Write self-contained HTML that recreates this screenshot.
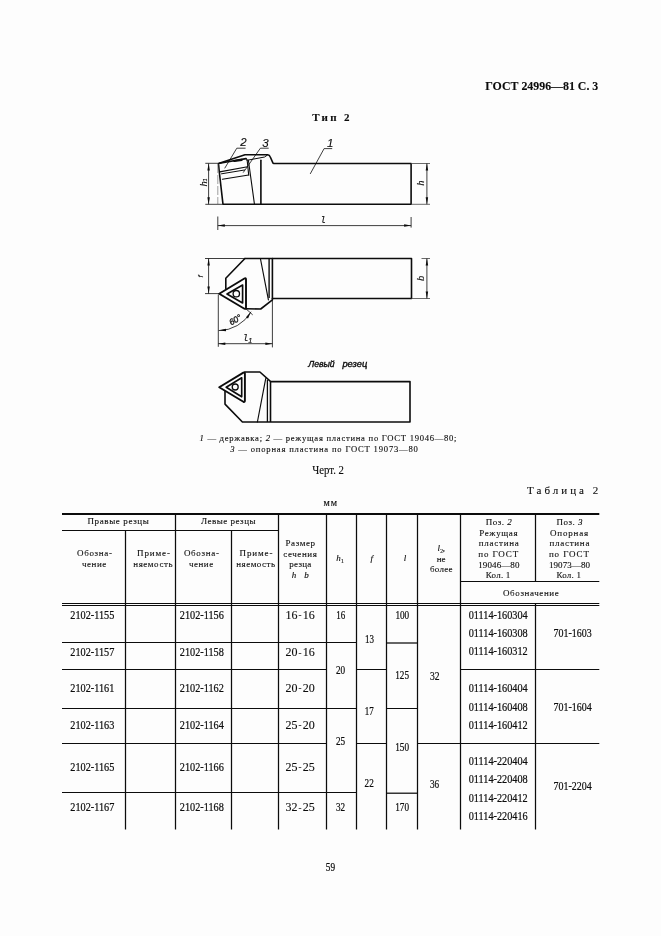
<!DOCTYPE html>
<html lang="ru"><head><meta charset="utf-8"><title>ГОСТ 24996—81 С. 3</title>
<style>
html,body{margin:0;padding:0;background:#fdfdfd;}
body{width:661px;height:936px;overflow:hidden;position:relative;}
svg{position:absolute;left:0;top:0;display:block;filter:blur(0.35px);}
text{white-space:pre;stroke:#0c0c0c;stroke-width:0.12px;paint-order:stroke fill;}
</style></head><body>
<svg width="661" height="936" viewBox="0 0 661 936">
<text x="485.3" y="89.8" font-family="'Liberation Serif','Noto Serif CJK SC',serif" font-size="12" fill="#0c0c0c" font-weight="bold" textLength="113" lengthAdjust="spacingAndGlyphs" >ГОСТ 24996—81 С. 3</text>
<text x="312.2" y="120.6" font-family="'Liberation Serif','Noto Serif CJK SC',serif" font-size="11" fill="#0c0c0c" font-weight="bold" textLength="37.4" lengthAdjust="spacing" >Тип 2</text>
<path d="M218.5 163.5 L245 154.8 L267.7 154.8 Q269.5 155 270.3 157 L273 163.1 L273.8 163.5 L411.1 163.5 L411.1 204.3 L223 204.3 L219.3 172 Z" stroke="#0c0c0c" stroke-width="1.6" fill="none" stroke-linejoin="round" stroke-linecap="round" />
<path d="M219.5 163.3 L246 158.6" stroke="#0c0c0c" stroke-width="1.6" fill="none" stroke-linejoin="round" stroke-linecap="round" />
<path d="M234.4 161.0 L241.8 159.8" stroke="#0c0c0c" stroke-width="2.2" fill="none" stroke-linejoin="round" stroke-linecap="round" />
<path d="M247 160.3 L264.6 157.0 L267.5 155" stroke="#0c0c0c" stroke-width="1.0" fill="none" stroke-linejoin="round" stroke-linecap="round" />
<path d="M219.7 171.9 L247.6 166.8" stroke="#0c0c0c" stroke-width="1.1" fill="none" stroke-linejoin="round" stroke-linecap="round" />
<path d="M221.5 173.8 L244.5 170.0" stroke="#0c0c0c" stroke-width="1.0" fill="none" stroke-linejoin="round" stroke-linecap="round" />
<path d="M222.4 179.3 L248.7 175.0" stroke="#0c0c0c" stroke-width="1.1" fill="none" stroke-linejoin="round" stroke-linecap="round" />
<path d="M246.3 158.8 Q247.2 159.2 247.3 161.5 L248.7 175.0" stroke="#0c0c0c" stroke-width="1.1" fill="none" stroke-linejoin="round" stroke-linecap="round" />
<path d="M248.4 160.2 L254.4 203.9" stroke="#0c0c0c" stroke-width="1.1" fill="none" stroke-linejoin="round" stroke-linecap="round" />
<path d="M260.9 160.2 L260.9 203.9" stroke="#0c0c0c" stroke-width="1.6" fill="none" stroke-linejoin="round" stroke-linecap="round" />
<line x1="217.8" y1="164" x2="217.8" y2="204" stroke="#777" stroke-width="0.7" stroke-dasharray="9 2"/>
<line x1="205.3" y1="163.3" x2="218.3" y2="163.3" stroke="#0c0c0c" stroke-width="0.8" />
<line x1="205.3" y1="204.3" x2="222.5" y2="204.3" stroke="#0c0c0c" stroke-width="0.8" />
<line x1="208.6" y1="163.5" x2="208.6" y2="204.3" stroke="#0c0c0c" stroke-width="0.8" />
<polygon points="208.60,163.50 209.85,170.50 207.35,170.50" fill="#0c0c0c"/>
<polygon points="208.60,204.30 207.35,197.30 209.85,197.30" fill="#0c0c0c"/>
<text x="206.6" y="186.2" font-family="'Liberation Sans','Noto Sans CJK SC',sans-serif" font-size="8.8" fill="#0c0c0c" font-style="italic" transform="rotate(-90 206.6 186.2)" >h</text>
<text x="207.4" y="181.4" font-family="'Liberation Sans','Noto Sans CJK SC',sans-serif" font-size="5.5" fill="#0c0c0c" font-style="italic" transform="rotate(-90 207.4 181.4)" >1</text>
<line x1="411.1" y1="163.5" x2="430" y2="163.5" stroke="#444" stroke-width="0.8" />
<line x1="411.1" y1="204.3" x2="430" y2="204.3" stroke="#444" stroke-width="0.8" />
<line x1="426.9" y1="163.5" x2="426.9" y2="204.3" stroke="#0c0c0c" stroke-width="0.8" />
<polygon points="426.90,163.50 428.15,170.50 425.65,170.50" fill="#0c0c0c"/>
<polygon points="426.90,204.30 425.65,197.30 428.15,197.30" fill="#0c0c0c"/>
<text x="424.4" y="185.4" font-family="'Liberation Sans','Noto Sans CJK SC',sans-serif" font-size="8.8" fill="#0c0c0c" font-style="italic" transform="rotate(-90 424.4 185.4)" >h</text>
<line x1="217.8" y1="216.5" x2="217.8" y2="230" stroke="#0c0c0c" stroke-width="0.8" />
<line x1="411.1" y1="217" x2="411.1" y2="227.6" stroke="#0c0c0c" stroke-width="0.8" />
<line x1="217.8" y1="225.6" x2="411.1" y2="225.6" stroke="#0c0c0c" stroke-width="0.8" />
<polygon points="217.80,225.60 224.80,224.35 224.80,226.85" fill="#0c0c0c"/>
<polygon points="411.10,225.60 404.10,226.85 404.10,224.35" fill="#0c0c0c"/>
<text x="320.6" y="223.2" font-family="'DejaVu Sans Mono','Liberation Mono',monospace" font-size="9.5" fill="#0c0c0c" font-style="italic" >l</text>
<path d="M310.4 173.6 L324.1 148.6 L331.8 148.6" stroke="#0c0c0c" stroke-width="0.8" fill="none" stroke-linejoin="round" stroke-linecap="round" />
<text x="327.0" y="146.7" font-family="'Liberation Sans','Noto Sans CJK SC',sans-serif" font-size="11.5" fill="#0c0c0c" font-style="italic" >1</text>
<path d="M224.9 168 L236.8 148.2 L245.2 148.2" stroke="#0c0c0c" stroke-width="0.8" fill="none" stroke-linejoin="round" stroke-linecap="round" />
<text x="240.3" y="146.0" font-family="'Liberation Sans','Noto Sans CJK SC',sans-serif" font-size="11.5" fill="#0c0c0c" font-style="italic" >2</text>
<path d="M243.4 172.3 L260.4 148.2 L268.3 148.2" stroke="#0c0c0c" stroke-width="0.8" fill="none" stroke-linejoin="round" stroke-linecap="round" />
<text x="262.2" y="146.5" font-family="'Liberation Sans','Noto Sans CJK SC',sans-serif" font-size="11.5" fill="#0c0c0c" font-style="italic" >3</text>
<path d="M244.9 258.5 L411.5 258.5 L411.5 298.5 L272.4 298.5" stroke="#0c0c0c" stroke-width="1.6" fill="none" stroke-linejoin="round" stroke-linecap="round" />
<path d="M244.9 258.5 L225.8 278.3 L225.8 288.6" stroke="#0c0c0c" stroke-width="1.6" fill="none" stroke-linejoin="round" stroke-linecap="round" />
<path d="M246 308.8 L260.7 309.0 L272.4 299.9 L272.4 258.5" stroke="#0c0c0c" stroke-width="1.6" fill="none" stroke-linejoin="round" stroke-linecap="round" />
<line x1="269.1" y1="258.5" x2="269.1" y2="298" stroke="#0c0c0c" stroke-width="1.4" />
<path d="M260.4 258.5 L268.4 299.9" stroke="#0c0c0c" stroke-width="1.15" fill="none" stroke-linejoin="round" stroke-linecap="round" />
<path d="M219.2 293.7 L244.4 278.5 Q246 277.7 246 279.6 L246 307.4 Q246 309.3 244.4 308.7 Z" stroke="#0c0c0c" stroke-width="1.9" fill="none" stroke-linejoin="round" stroke-linecap="round" />
<path d="M227.0 294.0 L242.6 285.0 L242.6 303.0 Z" stroke="#0c0c0c" stroke-width="1.65" fill="none" stroke-linejoin="round" stroke-linecap="round" />
<circle cx="236.3" cy="293.7" r="3.2" fill="none" stroke="#0c0c0c" stroke-width="1.3"/>
<line x1="205" y1="258.5" x2="245" y2="258.5" stroke="#0c0c0c" stroke-width="0.8" />
<line x1="205" y1="293.6" x2="219" y2="293.6" stroke="#0c0c0c" stroke-width="0.8" />
<line x1="208.6" y1="258.5" x2="208.6" y2="293.6" stroke="#0c0c0c" stroke-width="0.8" />
<polygon points="208.60,258.50 209.85,265.50 207.35,265.50" fill="#0c0c0c"/>
<polygon points="208.60,293.60 207.35,286.60 209.85,286.60" fill="#0c0c0c"/>
<text x="203.4" y="277.6" font-family="'Liberation Sans','Noto Sans CJK SC',sans-serif" font-size="8" fill="#0c0c0c" font-style="italic" transform="rotate(-90 203.4 277.6)" >f</text>
<line x1="421.5" y1="258.5" x2="430" y2="258.5" stroke="#444" stroke-width="0.8" />
<line x1="411.5" y1="298.5" x2="430" y2="298.5" stroke="#444" stroke-width="0.8" />
<line x1="426.9" y1="258.5" x2="426.9" y2="298.5" stroke="#0c0c0c" stroke-width="0.8" />
<polygon points="426.90,258.50 428.15,265.50 425.65,265.50" fill="#0c0c0c"/>
<polygon points="426.90,298.50 425.65,291.50 428.15,291.50" fill="#0c0c0c"/>
<text x="423.6" y="280.8" font-family="'Liberation Sans','Noto Sans CJK SC',sans-serif" font-size="8.8" fill="#0c0c0c" font-style="italic" transform="rotate(-90 423.6 280.8)" >b</text>
<line x1="218.3" y1="294.5" x2="218.3" y2="346.8" stroke="#0c0c0c" stroke-width="0.8" />
<line x1="272.4" y1="300" x2="272.4" y2="347.4" stroke="#0c0c0c" stroke-width="0.8" />
<line x1="218.3" y1="343.7" x2="272.4" y2="343.7" stroke="#0c0c0c" stroke-width="0.8" />
<polygon points="218.30,343.70 225.30,342.45 225.30,344.95" fill="#0c0c0c"/>
<polygon points="272.40,343.70 265.40,344.95 265.40,342.45" fill="#0c0c0c"/>
<text x="243.0" y="341.2" font-family="'DejaVu Sans Mono','Liberation Mono',monospace" font-size="9.5" fill="#0c0c0c" font-style="italic" >l</text>
<text x="248.0" y="342.9" font-family="'Liberation Sans','Noto Sans CJK SC',sans-serif" font-size="8" fill="#0c0c0c" font-style="italic" >1</text>
<path d="M246 308.8 L252.4 314.6" stroke="#0c0c0c" stroke-width="0.8" fill="none" stroke-linejoin="round" stroke-linecap="round" />
<path d="M219.0 330.6 A37 37 0 0 0 250.9 312.1" stroke="#0c0c0c" stroke-width="0.8" fill="none" stroke-linejoin="round" stroke-linecap="round" />
<polygon points="219.00,330.60 225.90,328.86 226.07,331.36" fill="#0c0c0c"/>
<polygon points="250.90,312.10 248.02,318.60 245.95,317.20" fill="#0c0c0c"/>
<text x="231.2" y="325.6" font-family="'Liberation Sans','Noto Sans CJK SC',sans-serif" font-size="8.5" fill="#0c0c0c" font-style="italic" transform="rotate(-31 231.2 325.6)" style="stroke-width:0.3px">60°</text>
<text x="308.2" y="367.0" font-family="'Liberation Sans','Noto Sans CJK SC',sans-serif" font-size="8.5" fill="#0c0c0c" font-style="italic" textLength="26.5" lengthAdjust="spacingAndGlyphs" style="stroke-width:0.35px">Левый</text>
<text x="342.4" y="367.0" font-family="'Liberation Sans','Noto Sans CJK SC',sans-serif" font-size="8.5" fill="#0c0c0c" font-style="italic" textLength="24.8" lengthAdjust="spacingAndGlyphs" style="stroke-width:0.35px">резец</text>
<path d="M244.9 372.0 L259.9 372.0 L270.7 381.6 L410 381.6 L410 422.0 L242.4 422.0 L225 404.1 L225 391.5" stroke="#0c0c0c" stroke-width="1.6" fill="none" stroke-linejoin="round" stroke-linecap="round" />
<path d="M219.2 387.2 L243.4 372.6 Q244.9 371.8 244.9 373.6 L244.9 400.6 Q244.9 402.4 243.4 401.8 Z" stroke="#0c0c0c" stroke-width="1.9" fill="none" stroke-linejoin="round" stroke-linecap="round" />
<path d="M226.2 387.2 L241.7 377.8 L241.7 396.8 Z" stroke="#0c0c0c" stroke-width="1.65" fill="none" stroke-linejoin="round" stroke-linecap="round" />
<circle cx="235.2" cy="387.0" r="3.0" fill="none" stroke="#0c0c0c" stroke-width="1.3"/>
<path d="M265.7 378.6 L257.4 422.0" stroke="#0c0c0c" stroke-width="1.15" fill="none" stroke-linejoin="round" stroke-linecap="round" />
<line x1="267.4" y1="380" x2="267.4" y2="422.0" stroke="#0c0c0c" stroke-width="1.3" />
<line x1="270.5" y1="381.6" x2="270.5" y2="422.0" stroke="#0c0c0c" stroke-width="1.6" />
<text x="199.5" y="441.4" font-family="'Liberation Serif',serif" font-size="8.6" fill="#0c0c0c" textLength="257" lengthAdjust="spacing"><tspan font-style="italic">1</tspan> — державка; <tspan font-style="italic">2</tspan> — режущая пластина по ГОСТ 19046—80;</text>
<text x="230.3" y="452.1" font-family="'Liberation Serif',serif" font-size="8.6" fill="#0c0c0c" textLength="187.6" lengthAdjust="spacing"><tspan font-style="italic">3</tspan> — опорная пластина по ГОСТ 19073—80</text>
<text x="312.2" y="474.0" font-family="'Liberation Serif','Noto Serif CJK SC',serif" font-size="11.5" fill="#0c0c0c" textLength="31.8" lengthAdjust="spacingAndGlyphs" >Черт. 2</text>
<text x="527.1" y="493.9" font-family="'Liberation Serif','Noto Serif CJK SC',serif" font-size="11" fill="#0c0c0c" textLength="71.1" lengthAdjust="spacing" >Таблица 2</text>
<text x="323.4" y="505.6" font-family="'Liberation Serif','Noto Serif CJK SC',serif" font-size="10" fill="#0c0c0c" textLength="13.8" lengthAdjust="spacing" >мм</text>
<line x1="62" y1="514.0" x2="599.3" y2="514.0" stroke="#0c0c0c" stroke-width="2.0" />
<line x1="62" y1="530.5" x2="278.5" y2="530.5" stroke="#0c0c0c" stroke-width="1.0" />
<line x1="460.5" y1="581.5" x2="599.3" y2="581.5" stroke="#0c0c0c" stroke-width="1.0" />
<line x1="62" y1="603.5" x2="599.3" y2="603.5" stroke="#0c0c0c" stroke-width="1.0" />
<line x1="62" y1="605.5" x2="599.3" y2="605.5" stroke="#0c0c0c" stroke-width="1.0" />
<line x1="125.5" y1="530.5" x2="125.5" y2="829.5" stroke="#0c0c0c" stroke-width="1.25" />
<line x1="231.5" y1="530.5" x2="231.5" y2="829.5" stroke="#0c0c0c" stroke-width="1.25" />
<line x1="175.5" y1="514.0" x2="175.5" y2="829.5" stroke="#0c0c0c" stroke-width="1.25" />
<line x1="278.5" y1="514.0" x2="278.5" y2="829.5" stroke="#0c0c0c" stroke-width="1.25" />
<line x1="326.5" y1="514.0" x2="326.5" y2="829.5" stroke="#0c0c0c" stroke-width="1.25" />
<line x1="356.5" y1="514.0" x2="356.5" y2="829.5" stroke="#0c0c0c" stroke-width="1.25" />
<line x1="386.5" y1="514.0" x2="386.5" y2="829.5" stroke="#0c0c0c" stroke-width="1.25" />
<line x1="417.5" y1="514.0" x2="417.5" y2="829.5" stroke="#0c0c0c" stroke-width="1.25" />
<line x1="460.5" y1="514.0" x2="460.5" y2="829.5" stroke="#0c0c0c" stroke-width="1.25" />
<line x1="535.5" y1="514.0" x2="535.5" y2="581.5" stroke="#0c0c0c" stroke-width="1.25" />
<line x1="535.5" y1="603.5" x2="535.5" y2="829.5" stroke="#0c0c0c" stroke-width="1.25" />
<line x1="62" y1="642.5" x2="326.5" y2="642.5" stroke="#0c0c0c" stroke-width="1.0" />
<line x1="62" y1="669.5" x2="326.5" y2="669.5" stroke="#0c0c0c" stroke-width="1.0" />
<line x1="62" y1="708.5" x2="326.5" y2="708.5" stroke="#0c0c0c" stroke-width="1.0" />
<line x1="62" y1="743.5" x2="326.5" y2="743.5" stroke="#0c0c0c" stroke-width="1.0" />
<line x1="62" y1="792.5" x2="326.5" y2="792.5" stroke="#0c0c0c" stroke-width="1.0" />
<line x1="326.5" y1="642.5" x2="356.5" y2="642.5" stroke="#0c0c0c" stroke-width="1.0" />
<line x1="326.5" y1="708.5" x2="356.5" y2="708.5" stroke="#0c0c0c" stroke-width="1.0" />
<line x1="326.5" y1="792.5" x2="356.5" y2="792.5" stroke="#0c0c0c" stroke-width="1.0" />
<line x1="356.5" y1="669.5" x2="386.5" y2="669.5" stroke="#0c0c0c" stroke-width="1.0" />
<line x1="356.5" y1="743.5" x2="386.5" y2="743.5" stroke="#0c0c0c" stroke-width="1.0" />
<line x1="386.5" y1="643.0" x2="417.5" y2="643.0" stroke="#0c0c0c" stroke-width="1.25" />
<line x1="386.5" y1="708.5" x2="417.5" y2="708.5" stroke="#0c0c0c" stroke-width="1.0" />
<line x1="386.5" y1="793.2" x2="417.5" y2="793.2" stroke="#0c0c0c" stroke-width="1.25" />
<line x1="417.5" y1="743.5" x2="460.5" y2="743.5" stroke="#0c0c0c" stroke-width="1.0" />
<line x1="460.5" y1="669.5" x2="599.3" y2="669.5" stroke="#0c0c0c" stroke-width="1.0" />
<line x1="460.5" y1="743.5" x2="599.3" y2="743.5" stroke="#0c0c0c" stroke-width="1.0" />
<text x="87.5" y="523.6" font-family="'Liberation Serif','Noto Serif CJK SC',serif" font-size="9" fill="#0c0c0c" textLength="61.3" lengthAdjust="spacing" >Правые резцы</text>
<text x="201.0" y="523.6" font-family="'Liberation Serif','Noto Serif CJK SC',serif" font-size="9" fill="#0c0c0c" textLength="54.5" lengthAdjust="spacing" >Левые резцы</text>
<text x="77" y="555.8" font-family="'Liberation Serif','Noto Serif CJK SC',serif" font-size="9" fill="#0c0c0c" textLength="35" lengthAdjust="spacing" >Обозна-</text>
<text x="82" y="566.8" font-family="'Liberation Serif','Noto Serif CJK SC',serif" font-size="9" fill="#0c0c0c" textLength="24.3" lengthAdjust="spacing" >чение</text>
<text x="183.9" y="555.8" font-family="'Liberation Serif','Noto Serif CJK SC',serif" font-size="9" fill="#0c0c0c" textLength="35" lengthAdjust="spacing" >Обозна-</text>
<text x="188.9" y="566.8" font-family="'Liberation Serif','Noto Serif CJK SC',serif" font-size="9" fill="#0c0c0c" textLength="24.3" lengthAdjust="spacing" >чение</text>
<text x="137" y="555.8" font-family="'Liberation Serif','Noto Serif CJK SC',serif" font-size="9" fill="#0c0c0c" textLength="33" lengthAdjust="spacing" >Приме-</text>
<text x="133.3" y="566.8" font-family="'Liberation Serif','Noto Serif CJK SC',serif" font-size="9" fill="#0c0c0c" textLength="39.2" lengthAdjust="spacing" >няемость</text>
<text x="239.5" y="555.8" font-family="'Liberation Serif','Noto Serif CJK SC',serif" font-size="9" fill="#0c0c0c" textLength="33" lengthAdjust="spacing" >Приме-</text>
<text x="236.3" y="566.8" font-family="'Liberation Serif','Noto Serif CJK SC',serif" font-size="9" fill="#0c0c0c" textLength="38.7" lengthAdjust="spacing" >няемость</text>
<text x="285.5" y="545.8" font-family="'Liberation Serif','Noto Serif CJK SC',serif" font-size="9" fill="#0c0c0c" textLength="29.5" lengthAdjust="spacing" >Размер</text>
<text x="283.3" y="557.0" font-family="'Liberation Serif','Noto Serif CJK SC',serif" font-size="9" fill="#0c0c0c" textLength="33.5" lengthAdjust="spacing" >сечения</text>
<text x="289.3" y="566.8" font-family="'Liberation Serif','Noto Serif CJK SC',serif" font-size="9" fill="#0c0c0c" textLength="22" lengthAdjust="spacing" >резца</text>
<text x="291.8" y="578.0" font-family="'Liberation Serif','Noto Serif CJK SC',serif" font-size="9" fill="#0c0c0c" font-style="italic" >h</text>
<text x="304.3" y="578.0" font-family="'Liberation Serif','Noto Serif CJK SC',serif" font-size="9" fill="#0c0c0c" font-style="italic" >b</text>
<text x="336.3" y="561.3" font-family="'Liberation Serif','Noto Serif CJK SC',serif" font-size="9" fill="#0c0c0c" font-style="italic" >h</text>
<text x="341.0" y="562.6" font-family="'Liberation Serif','Noto Serif CJK SC',serif" font-size="5.5" fill="#0c0c0c" >1</text>
<text x="370.6" y="561.3" font-family="'Liberation Serif','Noto Serif CJK SC',serif" font-size="9" fill="#0c0c0c" font-style="italic" >f</text>
<text x="403.8" y="561.3" font-family="'Liberation Serif','Noto Serif CJK SC',serif" font-size="9" fill="#0c0c0c" font-style="italic" >l</text>
<text x="437.5" y="551.3" font-family="'Liberation Serif','Noto Serif CJK SC',serif" font-size="9" fill="#0c0c0c" font-style="italic" >l</text>
<text x="440.2" y="552.8" font-family="'Liberation Serif','Noto Serif CJK SC',serif" font-size="5.5" fill="#0c0c0c" >2</text>
<text x="442.8" y="551.3" font-family="'Liberation Serif','Noto Serif CJK SC',serif" font-size="9" fill="#0c0c0c" >,</text>
<text x="436.8" y="561.8" font-family="'Liberation Serif','Noto Serif CJK SC',serif" font-size="9" fill="#0c0c0c" textLength="8.7" lengthAdjust="spacing" >не</text>
<text x="430" y="571.8" font-family="'Liberation Serif','Noto Serif CJK SC',serif" font-size="9" fill="#0c0c0c" textLength="22.5" lengthAdjust="spacing" >более</text>
<text x="485.75" y="524.5" font-family="'Liberation Serif',serif" font-size="9" fill="#0c0c0c" textLength="26" lengthAdjust="spacing">Поз. <tspan font-style="italic">2</tspan></text>
<text x="479.25" y="536.3" font-family="'Liberation Serif','Noto Serif CJK SC',serif" font-size="9" fill="#0c0c0c" textLength="38.3" lengthAdjust="spacing" >Режущая</text>
<text x="478.75" y="546.3" font-family="'Liberation Serif','Noto Serif CJK SC',serif" font-size="9" fill="#0c0c0c" textLength="40" lengthAdjust="spacing" >пластина</text>
<text x="478.25" y="557.0" font-family="'Liberation Serif','Noto Serif CJK SC',serif" font-size="9" fill="#0c0c0c" textLength="40" lengthAdjust="spacing" >по ГОСТ</text>
<text x="478.25" y="567.5" font-family="'Liberation Serif','Noto Serif CJK SC',serif" font-size="9" fill="#0c0c0c" textLength="41.2" lengthAdjust="spacing" >19046—80</text>
<text x="485.75" y="578.0" font-family="'Liberation Serif','Noto Serif CJK SC',serif" font-size="9" fill="#0c0c0c" textLength="24.6" lengthAdjust="spacing" >Кол. 1</text>
<text x="556.4" y="524.5" font-family="'Liberation Serif',serif" font-size="9" fill="#0c0c0c" textLength="26" lengthAdjust="spacing">Поз. <tspan font-style="italic">3</tspan></text>
<text x="549.9" y="536.3" font-family="'Liberation Serif','Noto Serif CJK SC',serif" font-size="9" fill="#0c0c0c" textLength="38.3" lengthAdjust="spacing" >Опорная</text>
<text x="549.4" y="546.3" font-family="'Liberation Serif','Noto Serif CJK SC',serif" font-size="9" fill="#0c0c0c" textLength="40" lengthAdjust="spacing" >пластина</text>
<text x="548.9" y="557.0" font-family="'Liberation Serif','Noto Serif CJK SC',serif" font-size="9" fill="#0c0c0c" textLength="40" lengthAdjust="spacing" >по ГОСТ</text>
<text x="548.9" y="567.5" font-family="'Liberation Serif','Noto Serif CJK SC',serif" font-size="9" fill="#0c0c0c" textLength="41.2" lengthAdjust="spacing" >19073—80</text>
<text x="556.4" y="578.0" font-family="'Liberation Serif','Noto Serif CJK SC',serif" font-size="9" fill="#0c0c0c" textLength="24.6" lengthAdjust="spacing" >Кол. 1</text>
<text x="503" y="595.8" font-family="'Liberation Serif','Noto Serif CJK SC',serif" font-size="9" fill="#0c0c0c" textLength="55.8" lengthAdjust="spacing" >Обозначение</text>
<text x="70.3" y="619" font-family="'Liberation Serif','Noto Serif CJK SC',serif" font-size="12" fill="#0c0c0c" textLength="44" lengthAdjust="spacingAndGlyphs" style="stroke-width:0.22px">2102-1155</text>
<text x="179.8" y="619" font-family="'Liberation Serif','Noto Serif CJK SC',serif" font-size="12" fill="#0c0c0c" textLength="44" lengthAdjust="spacingAndGlyphs" style="stroke-width:0.22px">2102-1156</text>
<text x="285.4" y="619" font-family="'Liberation Serif','Noto Serif CJK SC',serif" font-size="12" fill="#0c0c0c" >16</text>
<text x="298.4" y="618.3" font-family="'Liberation Serif','Noto Serif CJK SC',serif" font-size="9" fill="#0c0c0c" >-</text>
<text x="302.7" y="619" font-family="'Liberation Serif','Noto Serif CJK SC',serif" font-size="12" fill="#0c0c0c" >16</text>
<text x="70.3" y="656.2" font-family="'Liberation Serif','Noto Serif CJK SC',serif" font-size="12" fill="#0c0c0c" textLength="44" lengthAdjust="spacingAndGlyphs" style="stroke-width:0.22px">2102-1157</text>
<text x="179.8" y="656.2" font-family="'Liberation Serif','Noto Serif CJK SC',serif" font-size="12" fill="#0c0c0c" textLength="44" lengthAdjust="spacingAndGlyphs" style="stroke-width:0.22px">2102-1158</text>
<text x="285.4" y="656.2" font-family="'Liberation Serif','Noto Serif CJK SC',serif" font-size="12" fill="#0c0c0c" >20</text>
<text x="298.4" y="655.5" font-family="'Liberation Serif','Noto Serif CJK SC',serif" font-size="9" fill="#0c0c0c" >-</text>
<text x="302.7" y="656.2" font-family="'Liberation Serif','Noto Serif CJK SC',serif" font-size="12" fill="#0c0c0c" >16</text>
<text x="70.3" y="692" font-family="'Liberation Serif','Noto Serif CJK SC',serif" font-size="12" fill="#0c0c0c" textLength="44" lengthAdjust="spacingAndGlyphs" style="stroke-width:0.22px">2102-1161</text>
<text x="179.8" y="692" font-family="'Liberation Serif','Noto Serif CJK SC',serif" font-size="12" fill="#0c0c0c" textLength="44" lengthAdjust="spacingAndGlyphs" style="stroke-width:0.22px">2102-1162</text>
<text x="285.4" y="692" font-family="'Liberation Serif','Noto Serif CJK SC',serif" font-size="12" fill="#0c0c0c" >20</text>
<text x="298.4" y="691.3" font-family="'Liberation Serif','Noto Serif CJK SC',serif" font-size="9" fill="#0c0c0c" >-</text>
<text x="302.7" y="692" font-family="'Liberation Serif','Noto Serif CJK SC',serif" font-size="12" fill="#0c0c0c" >20</text>
<text x="70.3" y="729" font-family="'Liberation Serif','Noto Serif CJK SC',serif" font-size="12" fill="#0c0c0c" textLength="44" lengthAdjust="spacingAndGlyphs" style="stroke-width:0.22px">2102-1163</text>
<text x="179.8" y="729" font-family="'Liberation Serif','Noto Serif CJK SC',serif" font-size="12" fill="#0c0c0c" textLength="44" lengthAdjust="spacingAndGlyphs" style="stroke-width:0.22px">2102-1164</text>
<text x="285.4" y="729" font-family="'Liberation Serif','Noto Serif CJK SC',serif" font-size="12" fill="#0c0c0c" >25</text>
<text x="298.4" y="728.3" font-family="'Liberation Serif','Noto Serif CJK SC',serif" font-size="9" fill="#0c0c0c" >-</text>
<text x="302.7" y="729" font-family="'Liberation Serif','Noto Serif CJK SC',serif" font-size="12" fill="#0c0c0c" >20</text>
<text x="70.3" y="771" font-family="'Liberation Serif','Noto Serif CJK SC',serif" font-size="12" fill="#0c0c0c" textLength="44" lengthAdjust="spacingAndGlyphs" style="stroke-width:0.22px">2102-1165</text>
<text x="179.8" y="771" font-family="'Liberation Serif','Noto Serif CJK SC',serif" font-size="12" fill="#0c0c0c" textLength="44" lengthAdjust="spacingAndGlyphs" style="stroke-width:0.22px">2102-1166</text>
<text x="285.4" y="771" font-family="'Liberation Serif','Noto Serif CJK SC',serif" font-size="12" fill="#0c0c0c" >25</text>
<text x="298.4" y="770.3" font-family="'Liberation Serif','Noto Serif CJK SC',serif" font-size="9" fill="#0c0c0c" >-</text>
<text x="302.7" y="771" font-family="'Liberation Serif','Noto Serif CJK SC',serif" font-size="12" fill="#0c0c0c" >25</text>
<text x="70.3" y="811.3" font-family="'Liberation Serif','Noto Serif CJK SC',serif" font-size="12" fill="#0c0c0c" textLength="44" lengthAdjust="spacingAndGlyphs" style="stroke-width:0.22px">2102-1167</text>
<text x="179.8" y="811.3" font-family="'Liberation Serif','Noto Serif CJK SC',serif" font-size="12" fill="#0c0c0c" textLength="44" lengthAdjust="spacingAndGlyphs" style="stroke-width:0.22px">2102-1168</text>
<text x="285.4" y="811.3" font-family="'Liberation Serif','Noto Serif CJK SC',serif" font-size="12" fill="#0c0c0c" >32</text>
<text x="298.4" y="810.5999999999999" font-family="'Liberation Serif','Noto Serif CJK SC',serif" font-size="9" fill="#0c0c0c" >-</text>
<text x="302.7" y="811.3" font-family="'Liberation Serif','Noto Serif CJK SC',serif" font-size="12" fill="#0c0c0c" >25</text>
<text x="336.2" y="619" font-family="'Liberation Serif','Noto Serif CJK SC',serif" font-size="12" fill="#0c0c0c" textLength="9" lengthAdjust="spacingAndGlyphs" style="stroke-width:0.22px">16</text>
<text x="336" y="673.6" font-family="'Liberation Serif','Noto Serif CJK SC',serif" font-size="12" fill="#0c0c0c" textLength="9.2" lengthAdjust="spacingAndGlyphs" style="stroke-width:0.22px">20</text>
<text x="336" y="745.4" font-family="'Liberation Serif','Noto Serif CJK SC',serif" font-size="12" fill="#0c0c0c" textLength="9.2" lengthAdjust="spacingAndGlyphs" style="stroke-width:0.22px">25</text>
<text x="336" y="811.3" font-family="'Liberation Serif','Noto Serif CJK SC',serif" font-size="12" fill="#0c0c0c" textLength="9.2" lengthAdjust="spacingAndGlyphs" style="stroke-width:0.22px">32</text>
<text x="365" y="642.8" font-family="'Liberation Serif','Noto Serif CJK SC',serif" font-size="12" fill="#0c0c0c" textLength="9" lengthAdjust="spacingAndGlyphs" style="stroke-width:0.22px">13</text>
<text x="364.8" y="715.1" font-family="'Liberation Serif','Noto Serif CJK SC',serif" font-size="12" fill="#0c0c0c" textLength="9" lengthAdjust="spacingAndGlyphs" style="stroke-width:0.22px">17</text>
<text x="364.6" y="787.4" font-family="'Liberation Serif','Noto Serif CJK SC',serif" font-size="12" fill="#0c0c0c" textLength="9.2" lengthAdjust="spacingAndGlyphs" style="stroke-width:0.22px">22</text>
<text x="395.4" y="619" font-family="'Liberation Serif','Noto Serif CJK SC',serif" font-size="12" fill="#0c0c0c" textLength="13.8" lengthAdjust="spacingAndGlyphs" style="stroke-width:0.22px">100</text>
<text x="395.2" y="679.2" font-family="'Liberation Serif','Noto Serif CJK SC',serif" font-size="12" fill="#0c0c0c" textLength="13.8" lengthAdjust="spacingAndGlyphs" style="stroke-width:0.22px">125</text>
<text x="395.2" y="751.3" font-family="'Liberation Serif','Noto Serif CJK SC',serif" font-size="12" fill="#0c0c0c" textLength="13.8" lengthAdjust="spacingAndGlyphs" style="stroke-width:0.22px">150</text>
<text x="395.2" y="811.3" font-family="'Liberation Serif','Noto Serif CJK SC',serif" font-size="12" fill="#0c0c0c" textLength="13.8" lengthAdjust="spacingAndGlyphs" style="stroke-width:0.22px">170</text>
<text x="430" y="680.2" font-family="'Liberation Serif','Noto Serif CJK SC',serif" font-size="12" fill="#0c0c0c" textLength="9.6" lengthAdjust="spacingAndGlyphs" style="stroke-width:0.22px">32</text>
<text x="430" y="788.2" font-family="'Liberation Serif','Noto Serif CJK SC',serif" font-size="12" fill="#0c0c0c" textLength="9.2" lengthAdjust="spacingAndGlyphs" style="stroke-width:0.22px">36</text>
<text x="468.7" y="619" font-family="'Liberation Serif','Noto Serif CJK SC',serif" font-size="12" fill="#0c0c0c" textLength="59" lengthAdjust="spacingAndGlyphs" style="stroke-width:0.22px">01114-160304</text>
<text x="468.7" y="637.4" font-family="'Liberation Serif','Noto Serif CJK SC',serif" font-size="12" fill="#0c0c0c" textLength="59" lengthAdjust="spacingAndGlyphs" style="stroke-width:0.22px">01114-160308</text>
<text x="468.7" y="655.4" font-family="'Liberation Serif','Noto Serif CJK SC',serif" font-size="12" fill="#0c0c0c" textLength="59" lengthAdjust="spacingAndGlyphs" style="stroke-width:0.22px">01114-160312</text>
<text x="468.7" y="692" font-family="'Liberation Serif','Noto Serif CJK SC',serif" font-size="12" fill="#0c0c0c" textLength="59" lengthAdjust="spacingAndGlyphs" style="stroke-width:0.22px">01114-160404</text>
<text x="468.7" y="710.5" font-family="'Liberation Serif','Noto Serif CJK SC',serif" font-size="12" fill="#0c0c0c" textLength="59" lengthAdjust="spacingAndGlyphs" style="stroke-width:0.22px">01114-160408</text>
<text x="468.7" y="729.2" font-family="'Liberation Serif','Noto Serif CJK SC',serif" font-size="12" fill="#0c0c0c" textLength="59" lengthAdjust="spacingAndGlyphs" style="stroke-width:0.22px">01114-160412</text>
<text x="468.7" y="764.9" font-family="'Liberation Serif','Noto Serif CJK SC',serif" font-size="12" fill="#0c0c0c" textLength="59" lengthAdjust="spacingAndGlyphs" style="stroke-width:0.22px">01114-220404</text>
<text x="468.7" y="783" font-family="'Liberation Serif','Noto Serif CJK SC',serif" font-size="12" fill="#0c0c0c" textLength="59" lengthAdjust="spacingAndGlyphs" style="stroke-width:0.22px">01114-220408</text>
<text x="468.7" y="801.8" font-family="'Liberation Serif','Noto Serif CJK SC',serif" font-size="12" fill="#0c0c0c" textLength="59" lengthAdjust="spacingAndGlyphs" style="stroke-width:0.22px">01114-220412</text>
<text x="468.7" y="820" font-family="'Liberation Serif','Noto Serif CJK SC',serif" font-size="12" fill="#0c0c0c" textLength="59" lengthAdjust="spacingAndGlyphs" style="stroke-width:0.22px">01114-220416</text>
<text x="553.6" y="637.4" font-family="'Liberation Serif','Noto Serif CJK SC',serif" font-size="12" fill="#0c0c0c" textLength="38.2" lengthAdjust="spacingAndGlyphs" style="stroke-width:0.22px">701-1603</text>
<text x="553.6" y="710.5" font-family="'Liberation Serif','Noto Serif CJK SC',serif" font-size="12" fill="#0c0c0c" textLength="38.2" lengthAdjust="spacingAndGlyphs" style="stroke-width:0.22px">701-1604</text>
<text x="553.6" y="790" font-family="'Liberation Serif','Noto Serif CJK SC',serif" font-size="12" fill="#0c0c0c" textLength="38.2" lengthAdjust="spacingAndGlyphs" style="stroke-width:0.22px">701-2204</text>
<text x="325.8" y="871.3" font-family="'Liberation Serif','Noto Serif CJK SC',serif" font-size="12" fill="#0c0c0c" textLength="9.3" lengthAdjust="spacingAndGlyphs" style="stroke-width:0.22px">59</text>
</svg>
</body></html>
